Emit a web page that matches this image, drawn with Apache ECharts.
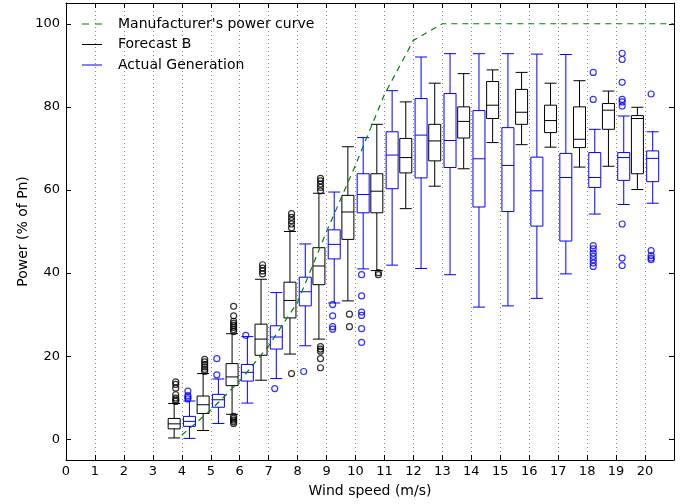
<!DOCTYPE html>
<html>
<head>
<meta charset="utf-8">
<script src="https://cdn.jsdelivr.net/npm/echarts@6/dist/echarts.min.js"></script>
<style>
html,body{margin:0;padding:0;background:#fff;}
#chart{width:688px;height:504px;}
</style>
</head>
<body>
<div id="chart"></div>
<script>
// ---------- data ----------
const windSpeeds = [4, 5, 6, 7, 8, 9, 10, 11, 12, 13, 14, 15, 16, 17, 18, 19, 20];
// [min, Q1, median, Q3, max]
const forecastBox = [
  [0.3, 2.5, 3.7, 5.0, 8.6],
  [2.1, 6.2, 8.3, 10.4, 15.8],
  [6.0, 12.9, 15.0, 18.2, 25.4],
  [14.2, 20.2, 24.1, 27.7, 38.5],
  [20.5, 29.2, 33.4, 37.8, 50.0],
  [24.1, 37.2, 41.7, 46.1, 59.2],
  [33.3, 48.1, 54.7, 58.7, 70.4],
  [40.6, 54.5, 59.7, 63.9, 75.8],
  [55.5, 64.1, 67.8, 72.4, 81.2],
  [60.9, 67.0, 71.8, 75.8, 85.7],
  [65.1, 72.5, 76.5, 80.0, 88.0],
  [71.4, 77.2, 80.4, 86.1, 88.9],
  [70.9, 75.8, 78.7, 84.2, 88.3],
  [70.3, 73.8, 76.7, 80.4, 85.7],
  [65.5, 70.2, 72.2, 80.0, 86.3],
  [65.7, 74.6, 79.2, 80.8, 83.8],
  [60.1, 63.9, 77.2, 77.9, 79.9]
];
const actualBox = [
  [0.2, 3.1, 4.3, 5.5, 9.2],
  [3.8, 7.7, 9.5, 10.8, 14.5],
  [8.7, 14.0, 16.1, 18.0, 24.7],
  [14.6, 21.7, 24.6, 27.3, 35.3],
  [22.5, 32.1, 35.5, 39.0, 47.0],
  [32.8, 43.4, 46.9, 50.4, 59.5],
  [41.0, 54.5, 58.9, 63.9, 72.6],
  [41.9, 60.3, 68.4, 74.0, 83.9],
  [41.1, 62.9, 73.2, 82.0, 92.0],
  [39.6, 65.4, 71.9, 83.2, 92.8],
  [31.8, 55.9, 67.5, 79.1, 92.8],
  [32.1, 54.8, 65.9, 75.0, 92.8],
  [33.9, 51.3, 59.8, 67.9, 92.7],
  [39.8, 47.7, 63.0, 68.8, 92.6],
  [54.2, 60.6, 63.0, 69.0, 74.6],
  [56.5, 62.3, 67.8, 69.0, 77.8],
  [56.8, 62.0, 67.6, 69.4, 74.0]
];
const forecastOutliers = [
  [9.1, 9.5, 9.9, 10.7, 12.3, 13.2, 13.8],
  [16.3, 16.8, 17.4, 18.0, 18.6, 19.2],
  [25.9, 26.4, 26.9, 27.4, 27.9, 28.4, 29.7, 32.0, 5.5, 5.0, 4.6, 4.2, 3.8],
  [39.8, 40.5, 41.2, 42.0],
  [50.9, 51.8, 52.6, 53.4, 54.3, 15.8],
  [59.8, 60.6, 61.4, 62.2, 62.8, 22.3, 21.7, 21.2, 19.4, 17.2],
  [30.1, 27.1],
  [40.1, 39.6],
  [], [], [], [], [], [], [], [], []
];
const actualOutliers = [
  [9.7, 10.1, 10.5, 11.6],
  [15.5, 19.4],
  [25.0],
  [12.2],
  [16.3],
  [32.4, 29.7, 27.1, 26.5],
  [39.6, 34.5, 30.6, 29.8, 26.6, 23.3],
  [], [], [], [], [], [], [],
  [88.3, 81.8, 46.6, 45.8, 44.8, 44.0, 43.2, 42.4, 41.6],
  [92.9, 91.4, 85.9, 81.8, 81.2, 80.2, 51.8, 43.6, 41.8],
  [83.1, 45.4, 44.2, 43.6, 43.2]
];
const curveSpeed = [4, 5, 6, 7, 8, 9, 10, 11, 12, 13, 21];
const curvePower = [1, 7, 14, 22.5, 33, 50, 66, 83, 96, 100, 100];
const xTickLabels = [0, 1, 2, 3, 4, 5, 6, 7, 8, 9, 10, 11, 12, 13, 14, 15, 16, 17, 18, 19, 20];
const yTickLabels = [0, 20, 40, 60, 80, 100];
const seriesNames = ["Manufacturer's power curve", 'Forecast B', 'Actual Generation'];

// ---------- build ----------
const OFFSET = 0.21; // box offset in x units (matches boxplot layout)
const boxData = (stats) => stats.map((s, i) => [windSpeeds[i]].concat(s));
const outlierData = (outs, sign) => {
  const res = [];
  outs.forEach((list, i) => list.forEach(v => res.push([windSpeeds[i] + sign * OFFSET, v])));
  return res;
};
const curveData = curveSpeed.map((x, i) => [x, curvePower[i]]);

const FONT = 'DejaVu Sans';
const BLACK = '#000000';
const BLUE = '#0000ff';
const GREEN = '#008000';

const chart = echarts.init(document.getElementById('chart'), null, {renderer: 'canvas'});
const xCommon = {
  type: 'value', min: 0, max: 21, interval: 1,
  axisLine: {show: true, onZero: false, lineStyle: {color: BLACK, width: 1}},
  axisTick: {show: true, inside: true, length: 5, lineStyle: {color: BLACK}},
  splitLine: {show: false}
};
const yCommon = {
  type: 'value', min: -5, max: 105,
  axisLine: {show: true, onZero: false, lineStyle: {color: BLACK, width: 1}},
  axisTick: {show: true, inside: true, length: 5, customValues: yTickLabels, lineStyle: {color: BLACK}},
  splitLine: {show: false}
};
const option = {
  animation: false,
  backgroundColor: '#fff',
  textStyle: {fontFamily: FONT},
  grid: {left: 66, right: 14, top: 3, bottom: 44, containLabel: false},
  legend: {
    orient: 'vertical', left: 77, top: 12, padding: 5, itemWidth: 31, itemHeight: 10, itemGap: 6.5,
    selectedMode: false,
    textStyle: {fontFamily: FONT, fontSize: 14, color: BLACK, lineHeight: 14},
    data: [
      {name: seriesNames[0], icon: 'path://M0,0h7v1.2h-7z M13,0h7v1.2h-7z M31,0L31,1.2', itemStyle: {color: GREEN, borderWidth: 0, borderColor: 'transparent'}},
      {name: seriesNames[1], icon: 'path://M0,0h20v1.2h-20z M31,0L31,1.2', itemStyle: {color: BLACK, borderWidth: 0, borderColor: 'transparent'}},
      {name: seriesNames[2], icon: 'path://M0,0h20v1.2h-20z M31,0L31,1.2', itemStyle: {color: BLUE, borderWidth: 0, borderColor: 'transparent'}}
    ]
  },
  xAxis: [
    Object.assign({}, xCommon, {
      position: 'bottom',
      name: 'Wind speed (m/s)', nameLocation: 'middle', nameGap: 24, nameMoveOverlap: false,
      nameTextStyle: {fontFamily: FONT, fontSize: 14, color: BLACK},
      axisLabel: {show: true, customValues: xTickLabels, fontFamily: FONT, fontSize: 13, color: BLACK, margin: 5},
      splitLine: {show: true, lineStyle: {type: [1, 3], color: '#8a8a8a', width: 1}}
    }),
    Object.assign({}, xCommon, {position: 'top', axisLabel: {show: false}})
  ],
  yAxis: [
    Object.assign({}, yCommon, {
      position: 'left',
      name: 'Power (% of Pn)', nameLocation: 'middle', nameGap: 36, nameMoveOverlap: false,
      nameTextStyle: {fontFamily: FONT, fontSize: 14, color: BLACK},
      axisLabel: {show: true, customValues: yTickLabels, fontFamily: FONT, fontSize: 13, color: BLACK, margin: 6}
    }),
    Object.assign({}, yCommon, {position: 'right', axisLabel: {show: false}})
  ],
  series: [
    {
      name: seriesNames[0], type: 'line', data: curveData, symbol: 'none',
      lineStyle: {color: GREEN, width: 1.2, type: [6, 5]}, itemStyle: {color: GREEN},
      silent: true, z: 3
    },
    {
      name: seriesNames[1], type: 'boxplot', layout: 'horizontal', data: boxData(forecastBox),
      boxWidth: [12, 12],
      itemStyle: {color: 'rgba(0,0,0,0)', borderColor: BLACK, borderWidth: 1},
      emphasis: {disabled: true}, silent: true, z: 2
    },
    {
      name: seriesNames[2], type: 'boxplot', layout: 'horizontal', data: boxData(actualBox),
      boxWidth: [12, 12],
      itemStyle: {color: 'rgba(0,0,0,0)', borderColor: BLUE, borderWidth: 1},
      emphasis: {disabled: true}, silent: true, z: 2
    },
    {
      name: 'Forecast B outliers', type: 'scatter', data: outlierData(forecastOutliers, -1),
      symbol: 'circle', symbolSize: 6,
      itemStyle: {color: 'rgba(0,0,0,0)', borderColor: BLACK, borderWidth: 1.2},
      emphasis: {disabled: true}, silent: true, z: 2
    },
    {
      name: 'Actual outliers', type: 'scatter', data: outlierData(actualOutliers, 1),
      symbol: 'circle', symbolSize: 6,
      itemStyle: {color: 'rgba(0,0,0,0)', borderColor: BLUE, borderWidth: 1.2},
      emphasis: {disabled: true}, silent: true, z: 2
    }
  ]
};
chart.setOption(option);
</script>
</body>
</html>
